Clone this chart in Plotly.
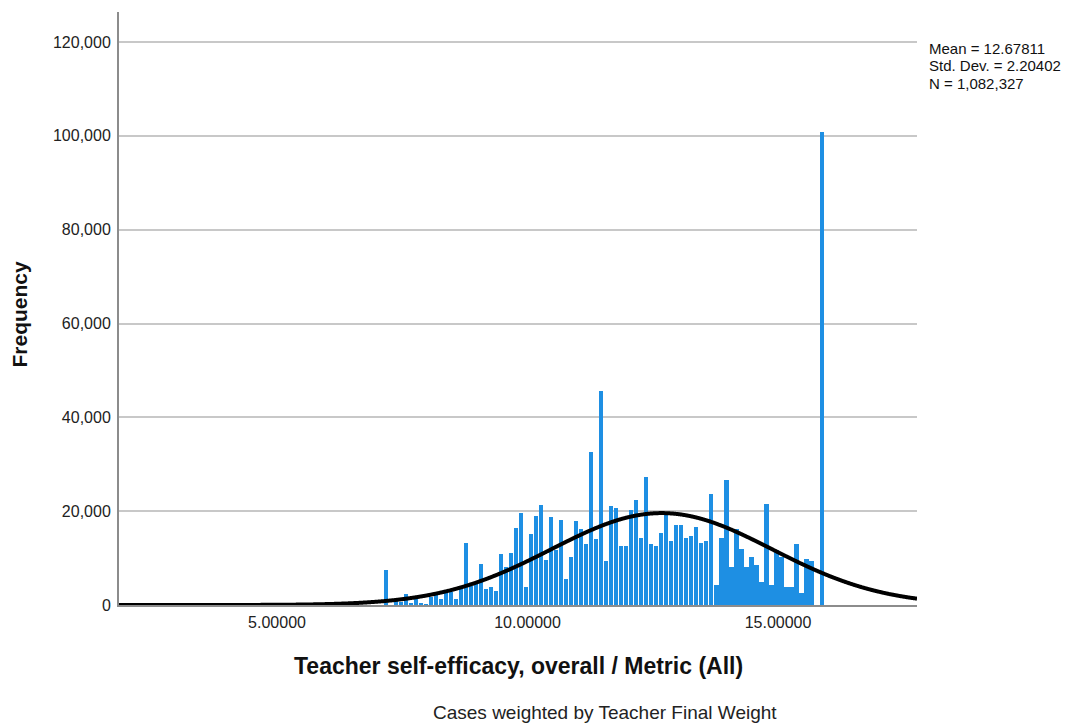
import numpy as np
import plotly.graph_objects as go

# ---- data ----
bin_start = 7.17          # centre of the first bin
bin_width = 0.1
frequencies = [
    7400, 0, 920, 710, 2270, 300, 1630, 500, 200, 1770,
    2340, 1280, 2840, 2840, 1280, 3690, 13200, 4000, 5000, 8700,
    3400, 3900, 3000, 10800, 8200, 11100, 16500, 19600, 3900, 15100,
    18900, 21400, 9600, 18700, 11700, 18200, 5500, 10300, 17900, 16300,
    13100, 32600, 14000, 45700, 9400, 21100, 20600, 12600, 12600, 20200,
    22300, 14200, 27300, 13100, 12600, 15300, 19100, 13600, 17000, 17000,
    14200, 14800, 16700, 13300, 13600, 23600, 4300, 14200, 26600, 8000,
    16100, 12000, 8000, 10300, 8500, 5000, 21600, 4300, 11700, 10200,
    3900, 3900, 13100, 2600, 9700, 9400, 0, 100800,
]
stat_mean = 12.67811
stat_sd = 2.20402
stat_n = 1082327
stat_lines = ["Mean = 12.67811", "Std. Dev. = 2.20402", "N = 1,082,327"]

x_ticks = [5, 10, 15]
x_tick_labels = ["5.00000", "10.00000", "15.00000"]
y_ticks = [0, 20000, 40000, 60000, 80000, 100000, 120000]
y_tick_labels = ["0", "20,000", "40,000", "60,000", "80,000", "100,000", "120,000"]

x_range = [1.846, 17.774]
y_range = [0, 126400]

# ---- derived ----
bin_centres = bin_start + bin_width * np.arange(len(frequencies))
curve_x = np.linspace(x_range[0], x_range[1], 1200)
curve_y = (stat_n * bin_width / (stat_sd * np.sqrt(2 * np.pi))
           * np.exp(-0.5 * ((curve_x - stat_mean) / stat_sd) ** 2))

FONT = "Liberation Sans, Arial, sans-serif"

fig = go.Figure()
fig.add_trace(go.Bar(
    x=bin_centres, y=frequencies, width=bin_width * 0.84,
    marker=dict(color="#1E8FE3", line=dict(width=0)),
    hoverinfo="x+y", showlegend=False,
))
fig.add_trace(go.Scatter(
    x=curve_x, y=curve_y, mode="lines",
    line=dict(color="black", width=4, shape="spline"),
    showlegend=False, hoverinfo="skip",
))

annotations = [
    dict(text="<b>Frequency</b>", textangle=-90,
         xref="paper", yref="paper", x=0, y=0.5, xshift=-100, yshift=-6,
         xanchor="center", yanchor="middle", showarrow=False,
         font=dict(size=21, color="#111111", family=FONT)),
    dict(text="<b>Teacher self-efficacy, overall / Metric (All)</b>",
         xref="paper", yref="paper", x=0.5, y=0, yshift=-61,
         xanchor="center", yanchor="middle", showarrow=False,
         font=dict(size=23, color="#111111", family=FONT)),
    dict(text="Cases weighted by Teacher Final Weight",
         xref="paper", yref="paper", x=0.5, y=0, xshift=87, yshift=-107,
         xanchor="center", yanchor="middle", showarrow=False,
         font=dict(size=19, color="#222222", family=FONT)),
]
for i, line in enumerate(stat_lines):
    annotations.append(dict(
        text=line, xref="paper", yref="paper", x=1.0, y=1.0,
        xshift=10, yshift=-36 - 17.5 * i, xanchor="left", yanchor="middle",
        align="left", showarrow=False,
        font=dict(size=15, color="#111111", family=FONT)))

# page body adds an 8px offset, so the figure is 8px smaller than the window
fig.update_layout(
    width=1062, height=715,
    margin=dict(l=111, r=153, t=4, b=118, autoexpand=False),
    paper_bgcolor="white", plot_bgcolor="white",
    font=dict(family=FONT, color="#222222", size=16),
    bargap=0,
    xaxis=dict(
        range=x_range, tickvals=x_ticks, ticktext=x_tick_labels,
        showgrid=False, zeroline=False, showline=True, automargin=False,
        linecolor="#8c8c8c", linewidth=2, ticks="", ticklabelstandoff=2,
        tickfont=dict(size=16, color="#222222"),
    ),
    yaxis=dict(
        range=y_range, tickvals=y_ticks, ticktext=y_tick_labels,
        showgrid=True, gridcolor="#c8c8c8", gridwidth=1.5, automargin=False,
        zeroline=False, showline=True, linecolor="#8c8c8c", linewidth=2,
        ticks="", ticklabelstandoff=3, tickfont=dict(size=16, color="#222222"),
    ),
    annotations=annotations,
)

fig.write_html("out.html")
